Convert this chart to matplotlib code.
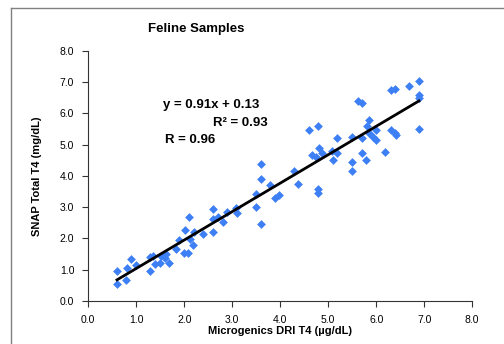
import numpy as np
import matplotlib
matplotlib.use('Agg')
import matplotlib.pyplot as plt
from matplotlib.lines import Line2D

plt.rcParams['font.family'] = ['Liberation Sans', 'DejaVu Sans']

# Microgenics DRI T4 (x) and SNAP Total T4 (y)
dri_t4 = [0.60, 0.60, 0.79, 0.81, 0.90, 1.00, 1.29, 1.28, 1.35, 1.40, 1.49, 1.52,
          1.59, 1.63, 1.69, 1.82, 1.89, 1.99, 2.08, 2.01, 2.10, 2.12, 2.19, 2.21,
          2.39, 2.59, 2.59, 2.59, 2.70, 2.80, 2.89, 3.08, 3.11, 3.50, 3.50, 3.59,
          3.59, 3.59, 3.79, 3.90, 3.98, 4.29, 4.38, 4.59, 4.79, 4.67, 4.74, 4.80,
          4.88, 4.79, 4.79, 5.08, 5.09, 5.19, 5.19, 5.49, 5.49, 5.49, 5.70, 5.70,
          5.78, 5.80, 5.84, 5.85, 5.61, 5.70, 5.94, 6.00, 6.00, 6.18, 6.30, 6.39,
          6.30, 6.39, 6.41, 6.68, 6.89, 6.89, 6.89, 6.89]
snap_t4 = [0.54, 0.96, 0.67, 1.05, 1.33, 1.15, 0.96, 1.42, 1.45, 1.18, 1.20, 1.45,
           1.39, 1.50, 1.21, 1.66, 1.95, 1.55, 1.53, 2.28, 2.70, 1.98, 1.80, 2.20,
           2.14, 2.95, 2.63, 2.20, 2.68, 2.52, 2.86, 2.97, 2.81, 3.43, 3.02, 4.39,
           3.89, 2.47, 3.71, 3.29, 3.40, 4.15, 3.75, 5.47, 5.61, 4.66, 4.61, 4.88,
           4.72, 3.59, 3.45, 4.79, 4.52, 5.20, 4.72, 5.25, 4.45, 4.16, 5.20, 4.74,
           4.50, 5.59, 5.79, 5.36, 6.41, 6.32, 5.25, 5.47, 5.14, 4.77, 6.75, 6.77,
           5.47, 5.36, 5.31, 6.88, 7.05, 6.59, 6.49, 5.49]

slope = 0.91
intercept = 0.13
ticks = np.arange(0, 8.1, 1.0)

fig = plt.figure(figsize=(5.04, 3.44), dpi=100)
ax = fig.add_axes([0.175, 0.125, 0.762, 0.727])

ax.scatter(dri_t4, snap_t4, marker='D', s=20, color='#3d7ff5', linewidths=0, zorder=3)

# trend line across the data range
x_line = np.array([min(dri_t4), max(dri_t4)])
ax.plot(x_line, slope * x_line + intercept, color='black', linewidth=2, zorder=4)

ax.set_xlim(0, 8)
ax.set_ylim(0, 8)
ax.set_xticks(ticks)
ax.set_yticks(ticks)
ax.set_xticklabels(['%.1f' % t for t in ticks], fontsize=7.5)
ax.set_yticklabels(['%.1f' % t for t in ticks], fontsize=7.5)
ax.tick_params(direction='out', length=4, width=0.8, color='#333333', pad=6)
for side in ['top', 'right']:
    ax.spines[side].set_visible(False)
for side in ['left', 'bottom']:
    ax.spines[side].set_color('#333333')
    ax.spines[side].set_linewidth(0.8)

ax.set_xlabel('Microgenics DRI T4 (\u00b5g/dL)', fontsize=8, fontweight='bold', labelpad=1)
ax.set_ylabel('SNAP Total T4 (mg/dL)', fontsize=8, fontweight='bold', labelpad=13)

fig.text(0.294, 0.917, 'Feline Samples', fontsize=9.5, fontweight='bold', va='center')

ax.text(1.55, 6.27, 'y = 0.91x + 0.13', fontsize=9.5, fontweight='bold', va='center')
ax.text(3.75, 5.7, 'R\u00b2 = 0.93', fontsize=9.5, fontweight='bold', va='center', ha='right')
ax.text(1.6, 5.15, 'R = 0.96', fontsize=9.5, fontweight='bold', va='center')

# outer chart border (top and left edges visible)
fig.add_artist(Line2D([11 / 504, 1], [1 - 8 / 344, 1 - 8 / 344], color='#808080', linewidth=1))
fig.add_artist(Line2D([11 / 504, 11 / 504], [0, 1 - 8 / 344], color='#808080', linewidth=1))

fig.savefig('out.png', dpi=100)
